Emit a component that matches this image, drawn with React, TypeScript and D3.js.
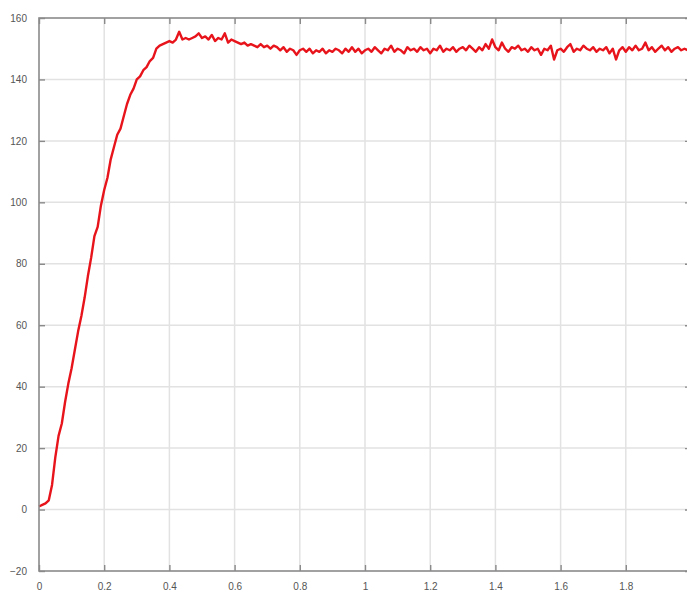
import React, { useEffect, useRef } from "react";
import * as d3 from "d3";

const timeStep = 0.01;
const speed = [
  1, 1.5, 2, 3, 8, 17, 24, 28, 35, 41,
  46, 52, 58, 63, 69, 76, 82, 89, 92, 99,
  104, 108, 114, 118, 122, 124, 128, 132, 135, 137,
  140, 141, 143, 144, 146, 147, 150, 151, 151.5, 152,
  152.5, 152, 153, 155.5, 153, 153.5, 153, 153.5, 154, 155,
  153.5, 154, 153, 154.5, 152.5, 153.5, 153, 155, 152, 153,
  152.5, 152, 151.5, 152, 151, 151.5, 151, 150.5, 151.5, 150.5,
  151, 150, 151, 150.5, 149.5, 150.5, 149, 150, 149.5, 148,
  149.5, 150, 149, 150, 148.5, 149.5, 149, 150, 148.5, 149.5,
  149, 150, 149.5, 148.5, 150, 149, 150.5, 149, 150, 148.5,
  149.5, 150, 149, 150.5, 149.5, 148.5, 150, 149.5, 151, 149,
  150, 149.5, 148.5, 150.5, 149.5, 150, 149, 150.5, 149.5, 150,
  148.5, 150, 149.5, 151, 149, 150, 149.5, 150.5, 149, 150,
  150.5, 149.5, 151, 150, 149, 150.5, 149.5, 151.5, 150, 153,
  150.5, 149.5, 152, 150, 149, 150.5, 150, 151, 149.5, 150,
  149, 150.5, 149.5, 150, 148, 150, 149.5, 151, 146.5, 149.5,
  150, 149, 150.5, 151.5, 149, 150, 149.5, 151, 150, 149.5,
  150.5, 149, 150, 149.5, 150.5, 148.5, 150, 146.5, 149.5, 150.5,
  149, 150.5, 149.5, 151, 149.5, 150, 152, 149.5, 150.5, 149,
  150, 151, 149.5, 150.5, 149, 150, 150.5, 149.5, 150, 149.5,
  150,
];
const xTicks = [0, 0.2, 0.4, 0.6, 0.8, 1, 1.2, 1.4, 1.6, 1.8, 2];
const yTicks = [-20, 0, 20, 40, 60, 80, 100, 120, 140, 160];

const W = 687;
const H = 591;
const left = 39;
const right = 691;
const top = 18;
const bottom = 571;

export default function App() {
  const ref = useRef<SVGSVGElement>(null);

  useEffect(() => {
    const svg = d3.select(ref.current);
    svg.selectAll("*").remove();

    const x = d3.scaleLinear().domain([0, 2]).range([left, right]);
    const y = d3.scaleLinear().domain([-20, 160]).range([bottom, top]);

    svg.append("rect").attr("width", W).attr("height", H).attr("fill", "#fff");

    // grid
    const grid = svg.append("g").attr("stroke", "#e2e2e2").attr("stroke-width", 1.5);
    grid
      .selectAll("line.gx")
      .data(xTicks.slice(1, -1))
      .enter()
      .append("line")
      .attr("x1", (d) => x(d))
      .attr("x2", (d) => x(d))
      .attr("y1", top)
      .attr("y2", bottom);
    grid
      .selectAll("line.gy")
      .data(yTicks.slice(1, -1))
      .enter()
      .append("line")
      .attr("x1", left)
      .attr("x2", right)
      .attr("y1", (d) => y(d))
      .attr("y2", (d) => y(d));

    // the curve
    const line = d3
      .line<number>()
      .x((d, i) => x(i * timeStep))
      .y((d) => y(d));
    svg
      .append("path")
      .datum(speed)
      .attr("d", line)
      .attr("fill", "none")
      .attr("stroke", "#e8141c")
      .attr("stroke-width", 2.4)
      .attr("stroke-linejoin", "round");

    // box + axes
    const axisColor = "#8a8a8a";
    svg
      .append("rect")
      .attr("x", left)
      .attr("y", top)
      .attr("width", right - left)
      .attr("height", bottom - top)
      .attr("fill", "none")
      .attr("stroke", axisColor)
      .attr("stroke-width", 1.6);

    // the label at 2 falls outside the cropped picture
    const xFmt = (d: d3.NumberValue) => (+d === 2 ? "" : d3.format("~g")(d));
    const bottomAxis = svg
      .append("g")
      .attr("transform", `translate(0,${bottom})`)
      .call(d3.axisBottom(x).tickValues(xTicks).tickSizeInner(-6).tickSizeOuter(0).tickPadding(12).tickFormat(xFmt));
    const topAxis = svg
      .append("g")
      .attr("transform", `translate(0,${top})`)
      .call(d3.axisTop(x).tickValues(xTicks).tickSizeInner(-6).tickSizeOuter(0).tickFormat(() => ""));
    const leftAxis = svg
      .append("g")
      .attr("transform", `translate(${left},0)`)
      .call(d3.axisLeft(y).tickValues(yTicks).tickSizeInner(-6).tickSizeOuter(0).tickPadding(12));
    const rightAxis = svg
      .append("g")
      .attr("transform", `translate(${right},0)`)
      .call(d3.axisRight(y).tickValues(yTicks).tickSizeInner(-6).tickSizeOuter(0).tickFormat(() => ""));

    [bottomAxis, topAxis, leftAxis, rightAxis].forEach((g) => {
      g.select(".domain").remove();
      g.selectAll(".tick line").attr("stroke", axisColor).attr("stroke-width", 1.4);
      g.selectAll(".tick text")
        .attr("fill", "#555")
        .style("font-family", "Arial, 'Liberation Sans', sans-serif")
        .style("font-size", "10px");
    });
  }, []);

  return (
    <svg
      ref={ref}
      width={W}
      height={H}
      style={{ position: "absolute", left: 0, top: 0 }}
    ></svg>
  );
}
